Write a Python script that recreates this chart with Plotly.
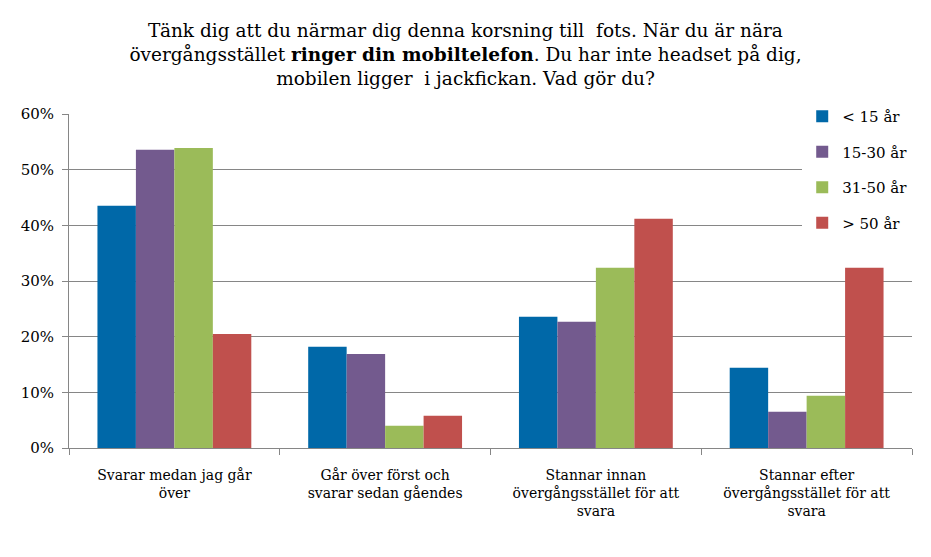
import plotly.graph_objects as go

# ── Data ──
categories = [
    "Svarar medan jag går<br>över",
    "Går över först och<br>svarar sedan gåendes",
    "Stannar innan<br>övergångsstället för att<br>svara",
    "Stannar efter<br>övergångsstället för att<br>svara",
]
series_names = ["< 15 år", "15-30 år", "31-50 år", "> 50 år"]
under_15 = [0.435, 0.182, 0.236, 0.144]
age_15_30 = [0.536, 0.169, 0.227, 0.065]
age_31_50 = [0.539, 0.040, 0.324, 0.094]
over_50 = [0.205, 0.058, 0.412, 0.324]
y_ticks = [0, 0.1, 0.2, 0.3, 0.4, 0.5, 0.6]

_COLORS = ['#0068A8', '#735A8E', '#9BBB59', '#C0504D']
_FONT = "DejaVu Serif"   # only serif face the sandbox renders
_GRID = '#868686'

title_text = (
    "Tänk dig att du närmar dig denna korsning till  fots. När du är nära<br>"
    "övergångsstället <b>ringer din mobiltelefon</b>. Du har inte headset på dig,<br>"
    "mobilen ligger  i jackfickan. Vad gör du?"
)

fig = go.Figure()
for i, (name, vals) in enumerate(zip(series_names, [under_15, age_15_30, age_31_50, over_50])):
    fig.add_trace(go.Bar(
        x=categories, y=vals, name=name,
        marker=dict(color=_COLORS[i], line_width=0),
        legendgroup=name,
    ))

# page body adds an 8px margin, so the figure is sized to fit the window
fig.update_layout(
    width=915, height=541,
    paper_bgcolor='white', plot_bgcolor='white',
    font=dict(family=_FONT, color='black', size=15),
    margin=dict(l=61, r=11, t=106, b=101, autoexpand=False),
    barmode='group', bargap=0.27, bargroupgap=0,
    title=dict(
        text=title_text, x=0.5, xanchor='center',
        yref='container', y=0.946, yanchor='middle',
        font=dict(family=_FONT, size=18.5, color='black'),
    ),
    legend=dict(
        xref='container', yref='container',
        x=0.868, xanchor='left', y=0.83, yanchor='top',
        bgcolor='white', font=dict(family=_FONT, size=15),
        tracegroupgap=13, itemwidth=30,
    ),
    xaxis=dict(
        showline=True, linecolor=_GRID, linewidth=1,
        ticks='outside', tickson='boundaries', ticklen=6, tickcolor=_GRID,
        tickfont=dict(family=_FONT, size=14), ticklabelstandoff=14,
        tickangle=0, automargin=False,
    ),
    yaxis=dict(
        range=[0, 0.6], tickvals=y_ticks, tickformat='.0%',
        showgrid=True, gridcolor=_GRID, gridwidth=1,
        showline=True, linecolor=_GRID, linewidth=1,
        ticks='outside', ticklen=6, tickcolor=_GRID, zeroline=False,
        tickfont=dict(family=_FONT, size=15), ticklabelstandoff=5,
        automargin=False,
    ),
)

fig.write_html("out.html")
